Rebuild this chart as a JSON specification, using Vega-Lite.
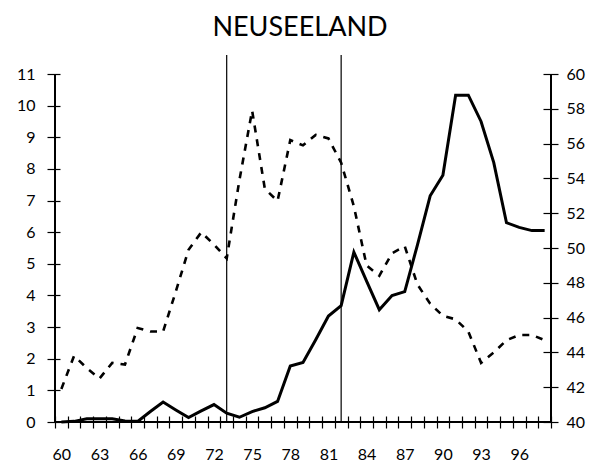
{
  "$schema": "https://vega.github.io/schema/vega-lite/v6.json",
  "width": 496,
  "height": 348,
  "autosize": {"type": "none"},
  "padding": {"left": 55, "top": 74, "right": 52, "bottom": 43},
  "background": "white",
  "config": {
    "view": {"stroke": null},
    "font": "Lato",
    "axis": {"labelFont": "Lato", "labelFontSize": 16, "labelColor": "black", "tickColor": "black", "tickWidth": 1.2, "grid": false, "domain": false, "labelOverlap": false},
    "axisLeft": {"offset": -5, "tickSize": 13, "labelPadding": 12, "tickCount": 12, "labelOverlap": false},
    "axisRight": {"offset": -8, "tickSize": 15, "labelPadding": 8, "labelOverlap": false},
    "axisBottom": {"offset": -6, "tickSize": 12, "labelPadding": 18, "labelAngle": 0}
  },
  "title": {"text": "NEUSEELAND", "font": "Lato", "fontSize": 27, "fontWeight": "normal", "color": "black", "anchor": "middle", "baseline": "alphabetic", "offset": 20, "dy": 29, "dx": -3},
  "datasets": {
    "nz": [
      {"year": 60, "solid": 0.0, "dashed": 41.9},
      {"year": 61, "solid": 0.02, "dashed": 43.8},
      {"year": 62, "solid": 0.1, "dashed": 43.1},
      {"year": 63, "solid": 0.1, "dashed": 42.5},
      {"year": 64, "solid": 0.1, "dashed": 43.4},
      {"year": 65, "solid": 0.03, "dashed": 43.3},
      {"year": 66, "solid": 0.02, "dashed": 45.4},
      {"year": 67, "solid": 0.33, "dashed": 45.2},
      {"year": 68, "solid": 0.63, "dashed": 45.2},
      {"year": 69, "solid": 0.38, "dashed": 47.5},
      {"year": 70, "solid": 0.14, "dashed": 49.9},
      {"year": 71, "solid": 0.35, "dashed": 50.9},
      {"year": 72, "solid": 0.55, "dashed": 50.2},
      {"year": 73, "solid": 0.28, "dashed": 49.4},
      {"year": 74, "solid": 0.15, "dashed": 53.9},
      {"year": 75, "solid": 0.33, "dashed": 57.9},
      {"year": 76, "solid": 0.45, "dashed": 53.4},
      {"year": 77, "solid": 0.65, "dashed": 52.7},
      {"year": 78, "solid": 1.77, "dashed": 56.2},
      {"year": 79, "solid": 1.88, "dashed": 55.9},
      {"year": 80, "solid": 2.6, "dashed": 56.5},
      {"year": 81, "solid": 3.35, "dashed": 56.3},
      {"year": 82, "solid": 3.68, "dashed": 54.9},
      {"year": 83, "solid": 5.37, "dashed": 52.4},
      {"year": 84, "solid": 4.45, "dashed": 49.0},
      {"year": 85, "solid": 3.55, "dashed": 48.4},
      {"year": 86, "solid": 4.0, "dashed": 49.7},
      {"year": 87, "solid": 4.12, "dashed": 50.1},
      {"year": 88, "solid": 5.6, "dashed": 47.9},
      {"year": 89, "solid": 7.15, "dashed": 46.8},
      {"year": 90, "solid": 7.8, "dashed": 46.1},
      {"year": 91, "solid": 10.33, "dashed": 45.9},
      {"year": 92, "solid": 10.33, "dashed": 45.2},
      {"year": 93, "solid": 9.5, "dashed": 43.4},
      {"year": 94, "solid": 8.2, "dashed": 44.0},
      {"year": 95, "solid": 6.3, "dashed": 44.7},
      {"year": 96, "solid": 6.15, "dashed": 45.0},
      {"year": 97, "solid": 6.05, "dashed": 45.0},
      {"year": 98, "solid": 6.05, "dashed": 44.7}
    ],
    "events": [{"year": 73}, {"year": 82}]
  },
  "layer": [
    {
      "layer": [
        {
          "data": {"name": "nz"},
          "mark": {"type": "line", "color": "black", "strokeWidth": 3, "strokeJoin": "miter"},
          "encoding": {
            "x": {
              "field": "year", "type": "ordinal",
              "scale": {"type": "band", "paddingInner": 0, "paddingOuter": 0, "domain": [60,61,62,63,64,65,66,67,68,69,70,71,72,73,74,75,76,77,78,79,80,81,82,83,84,85,86,87,88,89,90,91,92,93,94,95,96,97,98]},
              "axis": {"title": null, "tickBand": "extent", "labelExpr": "datum.value % 3 == 0 ? datum.value : ''"}
            },
            "y": {
              "field": "solid", "type": "quantitative",
              "scale": {"domain": [0, 11], "nice": false},
              "axis": {"title": null, "values": [0,1,2,3,4,5,6,7,8,9,10,11]}
            }
          }
        },
        {
          "data": {"name": "events"},
          "mark": {"type": "rule", "color": "black", "strokeWidth": 1.2},
          "encoding": {
            "x": {"field": "year", "type": "ordinal", "axis": {"title": null, "tickBand": "extent", "labelExpr": "datum.value % 3 == 0 ? datum.value : ''"}},
            "y": {"datum": 0, "type": "quantitative", "axis": {"title": null, "values": [0,1,2,3,4,5,6,7,8,9,10,11]}},
            "y2": {"datum": 11.6}
          }
        },
        {
          "data": {"name": "nz"},
          "mark": {"type": "rule", "color": "black", "strokeWidth": 1.2},
          "encoding": {"y": {"datum": 0, "type": "quantitative", "axis": {"title": null, "values": [0,1,2,3,4,5,6,7,8,9,10,11]}}}
        },
        {
          "data": {"name": "nz"},
          "mark": {"type": "rule", "color": "black", "strokeWidth": 1.2},
          "encoding": {"x": {"datum": 60, "type": "ordinal", "bandPosition": 0, "axis": {"title": null, "tickBand": "extent", "labelExpr": "datum.value % 3 == 0 ? datum.value : ''"}}}
        },
        {
          "data": {"name": "nz"},
          "mark": {"type": "rule", "color": "black", "strokeWidth": 1.2},
          "encoding": {"x": {"datum": 98, "type": "ordinal", "bandPosition": 1, "axis": {"title": null, "tickBand": "extent", "labelExpr": "datum.value % 3 == 0 ? datum.value : ''"}}}
        }
      ]
    },
    {
      "data": {"name": "nz"},
      "mark": {"type": "line", "color": "black", "strokeWidth": 2.6, "strokeDash": [7, 7]},
      "encoding": {
        "x": {"field": "year", "type": "ordinal", "axis": {"title": null, "tickBand": "extent", "labelExpr": "datum.value % 3 == 0 ? datum.value : ''"}},
        "y": {
          "field": "dashed", "type": "quantitative",
          "scale": {"domain": [40, 60], "nice": false},
          "axis": {"title": null, "orient": "right", "values": [40,42,44,46,48,50,52,54,56,58,60]}
        }
      }
    }
  ],
  "resolve": {"scale": {"y": "independent"}}
}
